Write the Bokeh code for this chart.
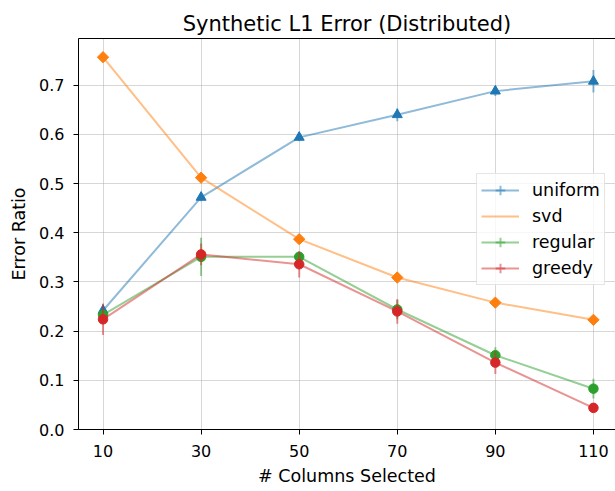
from bokeh.plotting import figure
from bokeh.models import (ColumnDataSource, Legend, LegendItem, LinearAxis,
                          FixedTicker, Range1d)
from bokeh.embed import file_html
from bokeh.resources import INLINE

# ---- data ----
columns = [10, 30, 50, 70, 90, 110]
uniform = [0.242, 0.472, 0.594, 0.640, 0.688, 0.708]
uniform_err = [0.012, 0.008, 0.008, 0.013, 0.010, 0.023]
svd = [0.757, 0.512, 0.387, 0.309, 0.258, 0.223]
regular = [0.233, 0.351, 0.351, 0.244, 0.151, 0.083]
regular_err = [0.012, 0.039, 0.010, 0.020, 0.016, 0.020]
greedy = [0.224, 0.356, 0.336, 0.240, 0.136, 0.044]
greedy_err = [0.032, 0.022, 0.027, 0.025, 0.023, 0.006]
x_ticks = [10, 30, 50, 70, 90, 110]
y_ticks = [0.0, 0.1, 0.2, 0.3, 0.4, 0.5, 0.6, 0.7]

FONT = "DejaVu Sans"
BLUE, ORANGE, GREEN, RED = "#1f77b4", "#ff7f0e", "#2ca02c", "#d62728"
TICK_FS = "16px"
LABEL_FS = "17.5px"

p = figure(width=615, height=491, output_backend="svg", toolbar_location=None,
           x_range=Range1d(5, 114.5), y_range=Range1d(0, 0.795),
           min_border_left=78, min_border_right=0, min_border_top=38,
           min_border_bottom=62, x_axis_label="# Columns Selected",
           y_axis_label="Error Ratio")
p.outline_line_color = None
p.background_fill_color = "white"
p.border_fill_color = "white"

xax = p.xaxis[0]
yax = p.yaxis[0]

p.title.text = "Synthetic L1 Error (Distributed)"
p.title.text_font = FONT
p.title.text_font_size = "21px"
p.title.text_font_style = "normal"
p.title.align = "center"
p.title.offset = 0
p.title.standoff = 6
p.title.text_color = "#000000"

# top spine (no ticks, no labels)
top_axis = LinearAxis(ticker=FixedTicker(ticks=[]), major_tick_out=0,
                      major_tick_in=0, minor_tick_out=0, minor_tick_in=0,
                      major_label_text_font_size="0px", major_label_standoff=0,
                      axis_line_color="black", axis_line_width=1)
p.add_layout(top_axis, "above")

for ax in (xax, yax):
    ax.axis_line_color = "black"
    ax.axis_line_width = 1
    ax.major_tick_out = 5
    ax.major_tick_in = 0
    ax.minor_tick_out = 0
    ax.minor_tick_in = 0
    ax.major_tick_line_color = "black"
    ax.major_label_text_font = FONT
    ax.major_label_text_font_size = TICK_FS
    ax.major_label_text_color = "#000000"
    ax.major_label_standoff = 9
    ax.axis_label_text_font = FONT
    ax.axis_label_text_font_size = LABEL_FS
    ax.axis_label_text_font_style = "normal"
    ax.axis_label_text_color = "#000000"

xax.ticker = FixedTicker(ticks=x_ticks)
yax.ticker = FixedTicker(ticks=y_ticks)
xax.major_label_standoff = 10
xax.axis_label_standoff = 6
yax.axis_label_standoff = 7
yax.major_label_overrides = {t: f"{t:.1f}" for t in y_ticks}

p.xgrid[0].ticker = FixedTicker(ticks=x_ticks)
p.ygrid[0].ticker = FixedTicker(ticks=y_ticks)
for g in (p.xgrid[0], p.ygrid[0]):
    g.grid_line_color = "#b0b0b0"
    g.grid_line_alpha = 0.5
    g.grid_line_width = 1

series = [
    ("uniform", uniform, uniform_err, BLUE, "triangle"),
    ("svd", svd, None, ORANGE, "diamond"),
    ("regular", regular, regular_err, GREEN, "circle"),
    ("greedy", greedy, greedy_err, RED, "circle"),
]

items = []
for name, vals, err, color, marker in series:
    data = dict(x=columns, y=vals)
    if err is not None:
        data["lo"] = [v - e for v, e in zip(vals, err)]
        data["hi"] = [v + e for v, e in zip(vals, err)]
    src = ColumnDataSource(data)
    ln = p.line("x", "y", source=src, line_color=color, line_alpha=0.5,
                line_width=2)
    rends = [ln]
    if err is not None:
        p.segment(x0="x", y0="lo", x1="x", y1="hi", source=src,
                  line_color=color, line_alpha=0.5, line_width=2)
        # legend-only error-bar handle (size 0 at data points)
        leg = p.scatter("x", "y", source=src, marker="cross", size=0,
                        line_color=color, line_alpha=0.5, line_width=2)
        rends.append(leg)
    if marker == "diamond":
        p.scatter("x", "y", source=src, marker="square", angle=0.7853981634,
                  size=8, fill_color=color, line_color=color)
    elif marker == "triangle":
        p.scatter("x", "y", source=src, marker="triangle", size=10,
                  fill_color=color, line_color=color)
    else:
        p.scatter("x", "y", source=src, marker="circle", size=9.5,
                  fill_color=color, line_color=color)
    items.append(LegendItem(label=name, renderers=rends))

legend = Legend(items=items, location=(398, 144))
legend.label_text_font = FONT
legend.label_text_font_size = LABEL_FS
legend.label_text_color = "#000000"
legend.border_line_color = "#cccccc"
legend.border_line_width = 1
legend.background_fill_alpha = 0.8
legend.padding = 4
legend.margin = 0
legend.spacing = 2
legend.glyph_width = 38
legend.glyph_height = 24
legend.label_height = 24
legend.label_standoff = 13
p.add_layout(legend, "center")

open("out.html", "w").write(file_html(p, INLINE))
